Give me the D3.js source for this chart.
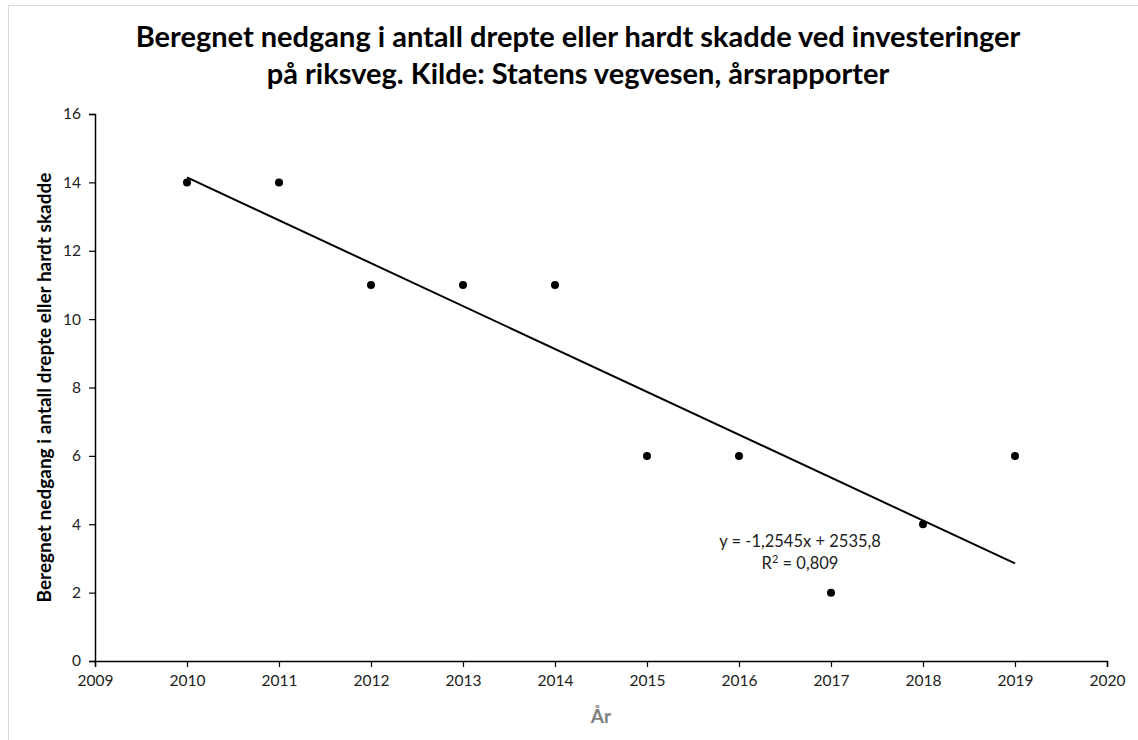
<!doctype html>
<html>
  <head>
    <meta charset="utf-8">
    <title>Nedgang drepte/hardt skadde</title>
    <script type="text/javascript" src="https://d3js.org/d3.v7.min.js"></script>
    <style>
      body { margin: 0; background: #fff; }
      text { font-family: Lato, "Open Sans", sans-serif; }
    </style>
  </head>
  <body>
    <script>
      // data
      const years = [2010, 2011, 2012, 2013, 2014, 2015, 2016, 2017, 2018, 2019];
      const values = [14, 14, 11, 11, 11, 6, 6, 2, 4, 6];
      const xTicks = [2009, 2010, 2011, 2012, 2013, 2014, 2015, 2016, 2017, 2018, 2019, 2020];
      const yTicks = [0, 2, 4, 6, 8, 10, 12, 14, 16];
      const titleLines = [
        'Beregnet nedgang i antall drepte eller hardt skadde ved investeringer',
        'på riksveg. Kilde: Statens vegvesen, årsrapporter'
      ];

      const width = 1138;
      const height = 740;
      const margin = { top: 114, right: 31, bottom: 79, left: 95 };

      const svg = d3.select('body').append('svg')
          .attr('width', width)
          .attr('height', height);

      // chart frame (only top and left edges are visible)
      svg.append('path')
          .attr('d', `M8.5,${height} V5.5 H${width}`)
          .attr('fill', 'none')
          .attr('stroke', '#d9d9d9')
          .attr('stroke-width', 1);

      const x = d3.scaleLinear()
          .domain([2009, 2020])
          .range([margin.left, width - margin.right]);

      const y = d3.scaleLinear()
          .domain([0, 16])
          .range([height - margin.bottom, margin.top]);

      // axes
      const xAxis = svg.append('g')
          .attr('transform', `translate(0,${y(0)})`)
          .call(d3.axisBottom(x).tickValues(xTicks).tickFormat(d3.format('d')).tickSize(6).tickPadding(8));

      const yAxis = svg.append('g')
          .attr('transform', `translate(${x(2009)},0)`)
          .call(d3.axisLeft(y).tickValues(yTicks).tickSize(6).tickPadding(8));

      [xAxis, yAxis].forEach(g => {
        g.select('.domain').attr('stroke', '#000').attr('stroke-width', 1.5);
        g.selectAll('.tick line').attr('stroke', '#000').attr('stroke-width', 1.2);
        g.selectAll('.tick text')
            .attr('font-family', 'Lato, "Open Sans", sans-serif')
            .attr('font-size', 15.5)
            .attr('fill', '#222');
      });

      // regression line from the data
      const mx = d3.mean(years);
      const my = d3.mean(values);
      const sxy = d3.sum(years, (d, i) => (d - mx) * (values[i] - my));
      const sxx = d3.sum(years, d => (d - mx) * (d - mx));
      const syy = d3.sum(values, d => (d - my) * (d - my));
      const slope = sxy / sxx;
      const intercept = my - slope * mx;
      const r2 = (sxy * sxy) / (sxx * syy);

      const trendYears = [d3.min(years), d3.max(years)];
      svg.append('line')
          .attr('x1', x(trendYears[0]))
          .attr('y1', y(intercept + slope * trendYears[0]))
          .attr('x2', x(trendYears[1]))
          .attr('y2', y(intercept + slope * trendYears[1]))
          .attr('stroke', '#000')
          .attr('stroke-width', 2);

      // points
      svg.append('g')
        .selectAll('circle')
        .data(years)
        .enter().append('circle')
          .attr('cx', d => x(d))
          .attr('cy', (d, i) => y(values[i]))
          .attr('r', 4)
          .attr('fill', '#000');

      // equation label
      const comma = s => s.replace('.', ',');
      const eq = svg.append('g')
          .attr('font-size', 16.5)
          .attr('fill', '#222')
          .attr('text-anchor', 'middle');
      eq.append('text')
          .attr('x', 800)
          .attr('y', 547)
          .text(`y = ${comma(slope.toFixed(4))}x + ${comma(intercept.toFixed(1))}`);
      const r2Text = eq.append('text')
          .attr('x', 800)
          .attr('y', 569);
      r2Text.append('tspan').text('R');
      r2Text.append('tspan').attr('dy', -6).attr('font-size', 11).text('2');
      r2Text.append('tspan').attr('dy', 6).text(' = ' + comma(r2.toFixed(3)));

      // title
      const title = svg.append('g')
          .attr('text-anchor', 'middle')
          .attr('font-weight', 'bold')
          .attr('font-size', 29)
          .attr('fill', '#000');
      titleLines.forEach((t, i) => {
        title.append('text')
            .attr('x', 578)
            .attr('y', 47 + i * 37)
            .text(t);
      });

      // axis titles
      svg.append('text')
          .attr('x', x(2014.5))
          .attr('y', 723)
          .attr('text-anchor', 'middle')
          .attr('font-weight', 'bold')
          .attr('font-size', 19)
          .attr('fill', '#7f7f7f')
          .text('År');

      svg.append('text')
          .attr('transform', `translate(51,${(y(0) + y(16)) / 2}) rotate(-90)`)
          .attr('text-anchor', 'middle')
          .attr('font-weight', 'bold')
          .attr('font-size', 19)
          .attr('fill', '#000')
          .text('Beregnet nedgang i antall drepte eller hardt skadde');
    </script>
  </body>
</html>
